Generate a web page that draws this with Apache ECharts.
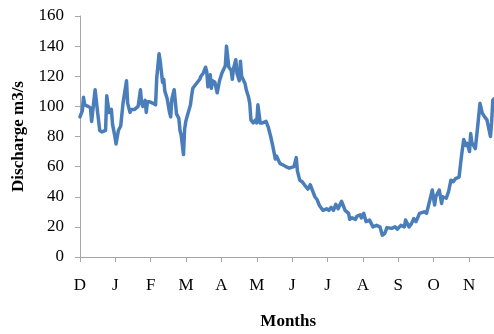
<!DOCTYPE html>
<html>
<head>
<meta charset="utf-8">
<script src="https://cdn.jsdelivr.net/npm/echarts@6/dist/echarts.min.js"></script>
<style>html,body{margin:0;padding:0;background:#fff;}#c{width:494px;height:334px;}</style>
</head>
<body>
<div id="c"></div>
<script>
var monthLabels = ['D','J','F','M','A','M','J','J','A','S','O','N'];
var days = [0,2,3,4,7,9,10,13,14,15,17,19,22,23,25,27,28,30,31,33,35,37,40,41,43,44,47,50,52,53,54,56,57,58,60,63,65,66,68,69,71,72,73,75,77,78,79,81,82,83,85,86,87,89,90,91,92,93,95,96,97,100,103,104,106,108,109,110,112,113,114,116,118,120,122,125,126,128,130,131,132,134,135,137,138,139,142,143,145,146,147,149,151,152,153,155,156,157,160,162,164,166,168,169,172,175,177,180,181,184,186,187,189,191,193,194,196,198,200,202,204,206,209,212,214,216,218,220,222,225,226,228,231,232,234,237,238,241,242,244,246,249,252,255,258,260,262,264,268,271,273,276,279,280,283,285,287,289,292,293,296,298,300,303,305,306,309,311,312,315,317,319,321,323,324,326,328,329,330,332,333,335,336,337,340,341,342,344,346,348,350,353,354,355,356];
var discharge = [93,97,106,101,100,99,90,111,112,97,84,83,84,107,96,98,88,80,75,84,87,102,117,102,96,98,98,100,111,102,100,104,96,103,103,102,101,119,135,130,116,118,110,105,96,93,105,111,103,95,92,84,81,68,85,90,93,94,101,107,112,115,118,120,122,126,123,113,121,112,117,116,109,117,122,127,140,126,124,118,125,131,122,117,130,120,115,111,106,102,91,89,91,89,101,89,88,89,90,86,80,73,65,67,62,61,60,59,58,60,66,57,51,50,48,49,45,48,44,40,38,34,31,32,31,33,31,35,32,37,35,31,29,25,26,25,27,28,26,29,23.5,24.5,20,21,20,14.5,15.5,19.5,19,20,18.5,21,20,24.5,20,22,25.5,23.5,29,28,30,29,35,44.5,34.5,40,44.5,35.5,40,39,43.5,51,50,52,52,53,66.5,65.5,78,74,75.5,70,82,76,72,72,86.5,102,95.5,93,91,80,89,104,105];

var seriesData = days.map(function(d, i){ return [d, discharge[i]]; });
var monthLen = 365 / 12;
var font = 'Liberation Serif';

var chart = echarts.init(document.getElementById('c'), null, {renderer: 'canvas'});
chart.setOption({
  animation: false,
  backgroundColor: '#ffffff',
  grid: {left: 80, top: 16, width: 424.4, height: 241, containLabel: false, outerBoundsMode: 'none'},
  xAxis: {
    type: 'value',
    min: 0,
    max: 365,
    interval: monthLen,
    name: 'Months',
    nameLocation: 'middle',
    nameGap: 56,
    nameTextStyle: {fontFamily: font, fontWeight: 'bold', fontSize: 17, color: '#000', padding: [0, 8, 0, 0]},
    axisLine: {show: true, lineStyle: {color: '#a6a6a6', width: 1}},
    axisTick: {show: true, inside: false, length: 5, lineStyle: {color: '#a6a6a6'}},
    splitLine: {show: false},
    axisLabel: {
      margin: 20,
      fontFamily: font,
      fontSize: 17,
      color: '#000',
      formatter: function(v){ var k = Math.round(v / monthLen); return Math.abs(v - k * monthLen) < 0.01 ? (monthLabels[k] || '') : ''; }
    }
  },
  yAxis: {
    type: 'value',
    min: 0,
    max: 160,
    interval: 20,
    name: 'Discharge m3/s',
    nameLocation: 'middle',
    nameGap: 53,
    nameTextStyle: {fontFamily: font, fontWeight: 'bold', fontSize: 17, color: '#000'},
    axisLine: {show: true, lineStyle: {color: '#a6a6a6', width: 1}},
    axisTick: {show: true, inside: false, length: 5, lineStyle: {color: '#a6a6a6'}},
    splitLine: {show: false},
    axisLabel: {margin: 16, fontFamily: font, fontSize: 17, color: '#000'}
  },
  series: [{
    type: 'line',
    data: seriesData,
    showSymbol: false,
    symbol: 'none',
    smooth: false,
    lineStyle: {color: '#4a7ebb', width: 3.5, join: 'round', cap: 'round'},
    clip: false
  }]
});
</script>
</body>
</html>
